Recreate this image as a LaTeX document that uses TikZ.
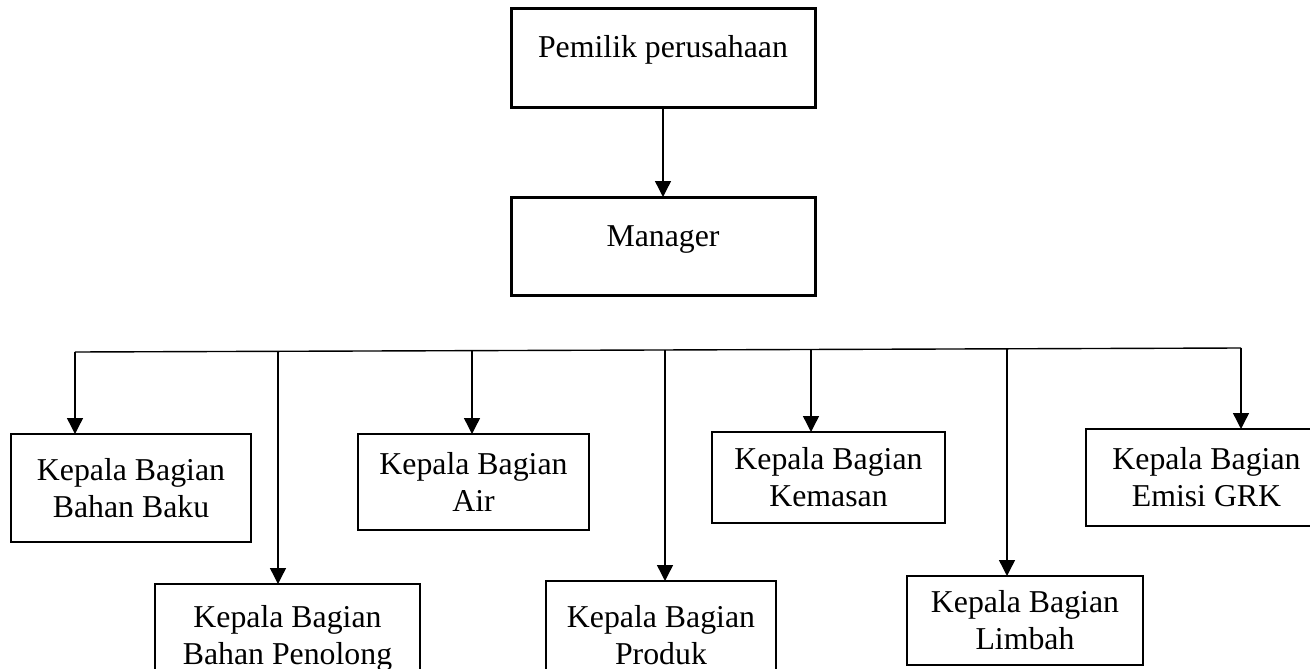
\documentclass[tikz,border=0pt]{standalone}
\usepackage{fontspec}
\setmainfont{Liberation Serif}
\usetikzlibrary{arrows.meta}
\begin{document}
\begin{tikzpicture}[x=1pt,y=-1pt,
  every node/.style={font=\fontsize{31.8}{37}\selectfont},
  topbox/.style={draw, line width=3pt, minimum width=304pt, inner xsep=0pt, inner ysep=0pt, text height=49pt, text depth=49pt, outer sep=0pt},
  subbox/.style={draw, line width=1.4pt, align=center, inner sep=0pt, outer sep=0pt},
  conn/.style={line width=1.4pt, -{Triangle[length=16pt,width=16pt]}},
  bar/.style={line width=1.4pt}]
\useasboundingbox (0,0) rectangle (1310,669);
\clip (0,0) rectangle (1310,669);

\node[topbox] (owner) at (663,58) {Pemilik perusahaan};
\node[topbox] (mgr) at (663,246) {Manager};

\node[subbox, minimum width=240pt, minimum height=108pt] (baku) at (131,488) {Kepala Bagian\\Bahan Baku};
\node[subbox, minimum width=265pt, minimum height=108pt] (penolong) at (287.5,638) {Kepala Bagian\\Bahan Penolong};
\node[subbox, minimum width=231pt, minimum height=96pt] (air) at (473.5,482) {Kepala Bagian\\Air};
\node[subbox, minimum width=230pt, minimum height=108pt] (produk) at (661,635) {Kepala Bagian\\Produk};
\node[subbox, minimum width=233pt, minimum height=91pt] (kemasan) at (828.5,477.5) {Kepala Bagian\\Kemasan};
\node[subbox, minimum width=236pt, minimum height=89pt] (limbah) at (1025,620.5) {Kepala Bagian\\Limbah};
\node[subbox, minimum width=241pt, minimum height=97pt] (emisi) at (1206.5,477.5) {Kepala Bagian\\Emisi GRK};

\draw[conn] (owner.south) -- (mgr.north);

\coordinate (b1) at (75,352);
\coordinate (b2) at (278,351.3);
\coordinate (b3) at (472,350.6);
\coordinate (b4) at (665,350);
\coordinate (b5) at (811,349.5);
\coordinate (b6) at (1007,348.8);
\coordinate (b7) at (1241,348);
\draw[bar] (b1) -- (b7);

\draw[conn] (b1) -- (b1 |- baku.north);
\draw[conn] (b2) -- (b2 |- penolong.north);
\draw[conn] (b3) -- (b3 |- air.north);
\draw[conn] (b4) -- (b4 |- produk.north);
\draw[conn] (b5) -- (b5 |- kemasan.north);
\draw[conn] (b6) -- (b6 |- limbah.north);
\draw[conn] (b7) -- (b7 |- emisi.north);
\end{tikzpicture}
\end{document}
